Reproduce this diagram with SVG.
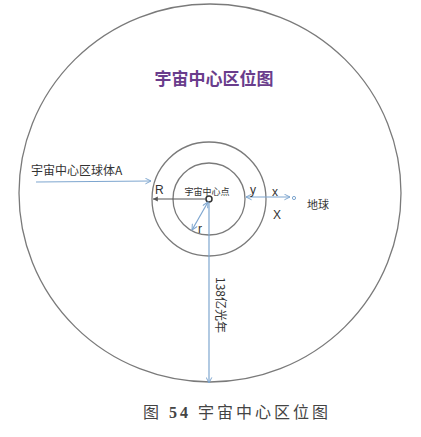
<svg xmlns="http://www.w3.org/2000/svg" width="421" height="437" viewBox="0 0 421 437">
<style>
.ring{fill:none;stroke:#7a7a7a;stroke-width:1.3}
.blue{fill:none;stroke:#7ea6cf;stroke-width:1.2}
.gray{fill:none;stroke:#555;stroke-width:1.2}
.lbl{font-family:"Liberation Sans","Noto Sans CJK SC",sans-serif;fill:#333}
.cjk{font-family:"Noto Sans CJK SC","Liberation Sans",sans-serif;fill:#333}
</style>
<defs>
<marker id="ab" viewBox="0 0 10 10" refX="9" refY="5" markerWidth="7" markerHeight="7" orient="auto-start-reverse" markerUnits="userSpaceOnUse">
<path d="M1,1 L9,5 L1,9" fill="none" stroke="#7ea6cf" stroke-width="1.4"/>
</marker>
<marker id="ag" viewBox="0 0 10 10" refX="9" refY="5" markerWidth="6" markerHeight="6" orient="auto-start-reverse" markerUnits="userSpaceOnUse">
<path d="M1,1 L9,5 L1,9 Z" fill="#555"/>
</marker>
</defs>
<rect width="421" height="437" fill="#fff"/>
<g id="sphere-outer"><ellipse class="ring" cx="210" cy="193" rx="191" ry="189"/></g>
<g id="ring-middle"><circle class="ring" cx="209" cy="199" r="57"/></g>
<g id="ring-inner"><circle class="ring" cx="209" cy="199" r="36"/></g>
<g id="center-point"><circle cx="209" cy="199" r="3" fill="#fff" stroke="#333" stroke-width="1.5"/></g>
<g id="earth"><circle cx="294" cy="198" r="1.6" fill="#fff" stroke="#7ea6cf" stroke-width="1"/>
<text class="cjk" x="307" y="209" font-size="11">地球</text></g>
<g id="connectors">
<line class="blue" x1="36" y1="182" x2="151" y2="181" marker-end="url(#ab)"/>
<line class="gray" x1="206" y1="199" x2="153" y2="199" marker-end="url(#ag)"/>
<line class="blue" x1="208" y1="202" x2="192" y2="230" marker-start="url(#ab)" marker-end="url(#ab)"/>
<line class="blue" x1="209" y1="203" x2="209" y2="383" marker-end="url(#ab)"/>
<line class="blue" x1="246" y1="197" x2="290" y2="197" marker-start="url(#ab)" marker-end="url(#ab)"/>
</g>
<g id="labels">
<text x="214" y="85" font-size="17" font-weight="bold" text-anchor="middle" font-family="Noto Sans CJK SC,sans-serif" fill="#6a3d8c">宇宙中心区位图</text>
<text class="cjk" x="31" y="175" font-size="12">宇宙中心区球体A</text>
<text class="lbl" x="155" y="194" font-size="12">R</text>
<text class="cjk" x="207" y="195" font-size="9" text-anchor="middle">宇宙中心点</text>
<text class="lbl" x="250" y="194" font-size="12">y</text>
<text class="lbl" x="272" y="196" font-size="12">x</text>
<text class="lbl" x="273" y="219" font-size="12">X</text>
<text class="lbl" x="198" y="233" font-size="12">r</text>
<text class="cjk" transform="translate(216,305) rotate(90)" x="0" y="0" font-size="12" text-anchor="middle">138亿光年</text>
<text x="143" y="418" font-size="16" font-family="Liberation Serif,Noto Sans CJK SC,serif" fill="#444" letter-spacing="3">图 <tspan font-weight="bold">54</tspan> 宇宙中心区位图</text>
</g>
</svg>
